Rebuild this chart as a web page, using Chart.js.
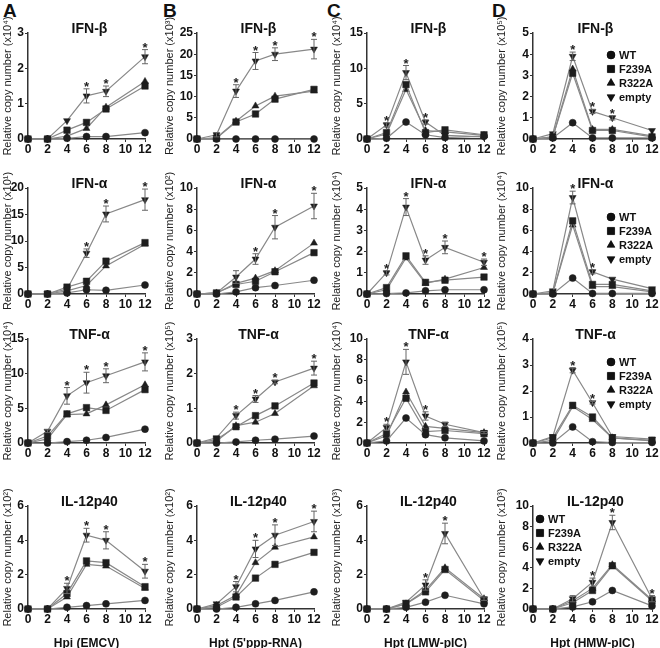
<!DOCTYPE html>
<html lang="en">
<head>
<meta charset="UTF-8">
<title>Relative copy number</title>
<script src="https://cdn.jsdelivr.net/npm/chart.js"></script>
<style>
  body { margin: 0; background: #fff; }
  #fig { position: relative; width: 660px; height: 648px; overflow: hidden;
         font-family: Arial, "Liberation Sans", sans-serif; }
  #fig canvas { position: absolute; }
  .letter { position: absolute; font-weight: bold; font-size: 19px; color: #111; }
</style>
</head>
<body>
<div id="fig">
  <div class="letter" style="left:3px;top:0">A</div>
  <div class="letter" style="left:163px;top:0">B</div>
  <div class="letter" style="left:327px;top:0">C</div>
  <div class="letter" style="left:492px;top:0">D</div>
</div>
<script>
// ---- data ----
const hours = [0, 2, 4, 6, 8, 12];
const groups = ['WT', 'F239A', 'R322A', 'empty'];
const genes = ['IFN-β', 'IFN-α', 'TNF-α', 'IL-12p40'];
const stimuli = ['Hpi (EMCV)', "Hpt (5'ppp-RNA)", 'Hpt (LMW-pIC)', 'Hpt (HMW-pIC)'];

// y axis: exponent of the x10 factor, max and step (rows = genes, cols = stimuli)
const yExp  = [[4, 3, 4, 5], [1, 2, 4, 4], [4, 5, 4, 5], [2, 2, 3, 3]];
const yMax  = [[3, 25, 15, 5], [20, 10, 5, 10], [15, 3, 10, 4], [6, 6, 6, 10]];
const yStep = [[1, 5, 5, 1], [5, 2, 1, 2], [5, 1, 2, 1], [2, 2, 2, 2]];

// values per panel: [WT, F239A, R322A, empty]
const ifnbA = [[0, 0, 0.02, 0.07, 0.07, 0.18], [0, 0, 0.25, 0.47, 0.85, 1.5], [0, 0, 0.08, 0.3, 0.9, 1.63], [0, 0, 0.52, 1.22, 1.35, 2.33]];
const ifnbB = [[0, 0, 0, 0, 0, 0], [0, 0.2, 4.0, 5.9, 9.4, 11.7], [0, 0.3, 4.2, 7.8, 10.1, 11.3], [0, 1.0, 11.3, 18.4, 20.0, 21.2]];
const ifnbC = [[0, 0.1, 2.4, 0.6, 0.2, 0.4], [0, 0.9, 7.7, 0.9, 1.3, 0.6], [0, 0.7, 7.0, 1.2, 1.0, 0.5], [0, 2.0, 9.4, 2.4, 0.5, 0.3]];
const ifnbD = [[0, 0.05, 0.77, 0.05, 0.05, 0.05], [0, 0.1, 3.1, 0.4, 0.4, 0.1], [0, 0.1, 3.3, 0.45, 0.45, 0.15], [0, 0.25, 3.9, 1.3, 1.0, 0.4]];

const ifnaA = [[0, 0, 0.2, 0.8, 0.7, 1.7], [0, 0, 1.3, 2.4, 6.2, 9.7], [0, 0, 0.6, 1.6, 5.3, 9.4], [0, 0.1, 0.9, 7.7, 15.1, 17.8]];
const ifnaB = [[0, 0, 0.2, 0.6, 0.8, 1.3], [0, 0.1, 0.9, 1.2, 2.1, 3.9], [0, 0.1, 1.0, 1.5, 2.2, 4.8], [0, 0.1, 1.6, 3.3, 6.3, 8.3]];
const ifnaC = [[0, 0.02, 0.05, 0.15, 0.2, 0.2], [0, 0.3, 1.8, 0.55, 0.65, 0.8], [0, 0.2, 1.7, 0.5, 0.7, 1.25], [0, 1.0, 4.1, 1.6, 2.2, 1.5]];
const ifnaD = [[0, 0, 1.5, 0.05, 0.05, 0.05], [0, 0.1, 6.9, 0.9, 0.9, 0.3], [0, 0.1, 6.5, 0.7, 0.7, 0.2], [0, 0.3, 9.1, 2.1, 1.4, 0.5]];

const tnfA = [[0, 0, 0.2, 0.4, 0.8, 2.0], [0, 1.0, 4.2, 5.1, 4.7, 7.7], [0, 0.6, 4.1, 4.2, 5.5, 8.4], [0, 1.7, 6.8, 8.7, 9.7, 11.7]];
const tnfB = [[0, 0, 0.03, 0.08, 0.11, 0.2], [0, 0.1, 0.47, 0.79, 1.07, 1.73], [0, 0.05, 0.5, 0.6, 0.85, 1.65], [0, 0.15, 0.79, 1.27, 1.76, 2.16]];
const tnfC = [[0, 0.2, 2.4, 0.8, 0.5, 0.2], [0, 0.9, 4.3, 1.1, 1.2, 0.9], [0, 0.7, 4.9, 1.6, 1.4, 1.0], [0, 1.5, 7.8, 2.6, 1.8, 1.0]];
const tnfD = [[0, 0, 0.62, 0.05, 0.02, 0.02], [0, 0.2, 1.45, 1.0, 0.2, 0.1], [0, 0.1, 1.4, 0.9, 0.2, 0.08], [0, 0.25, 2.8, 1.55, 0.25, 0.15]];

const il12A = [[0, 0, 0.1, 0.2, 0.3, 0.5], [0, 0, 0.9, 2.8, 2.7, 1.3], [0, 0, 0.7, 2.6, 2.5, 1.2], [0, 0, 1.2, 4.3, 4.0, 2.2]];
const il12B = [[0, 0, 0.1, 0.3, 0.5, 1.0], [0, 0.1, 0.7, 1.8, 2.6, 3.3], [0, 0.2, 0.8, 2.7, 3.6, 4.2], [0, 0.3, 1.3, 3.5, 4.3, 5.1]];
const il12C = [[0, 0, 0.1, 0.4, 0.8, 0.3], [0, 0, 0.3, 1.0, 2.3, 0.5], [0, 0, 0.3, 1.1, 2.4, 0.6], [0, 0, 0.4, 1.4, 4.4, 0.6]];
const il12D = [[0, 0, 0.2, 0.7, 1.8, 0.3], [0, 0, 0.6, 1.8, 4.2, 0.8], [0, 0, 0.8, 2.0, 4.3, 0.9], [0, 0, 1.0, 2.6, 8.4, 1.0]];

// error (SD) of the "empty" group, same panel order
const errIfnb = [[0, 0, 0, 0.2, 0.15, 0.2], [0, 0.5, 1.5, 2, 1.5, 2.3], [0, 0.3, 1, 0.3, 0, 0], [0, 0, 0.2, 0.1, 0.1, 0]];
const errIfna = [[0, 0, 0, 0.8, 1.5, 2], [0, 0, 0.6, 0.5, 1.1, 1.2], [0, 0.1, 0.4, 0.2, 0.3, 0.15], [0, 0, 0.6, 0.2, 0, 0]];
const errTnf  = [[0, 0.2, 1.2, 1.5, 1, 1.3], [0, 0, 0.1, 0.1, 0.05, 0.2], [0, 0.3, 1.2, 0.4, 0.2, 0.1], [0, 0, 0.1, 0.05, 0, 0]];
const errIl12 = [[0, 0, 0.3, 0.4, 0.5, 0.4], [0, 0, 0.3, 0.5, 0.6, 0.6], [0, 0, 0, 0.3, 0.6, 0.1], [0, 0, 0.3, 0.4, 0.7, 0.3]];

// hours marked with * (significance)
const starsIfnb = [[6, 8, 12], [4, 6, 8, 12], [2, 4, 6], [4, 6, 8]];
const starsIfna = [[6, 8, 12], [6, 8, 12], [2, 4, 6, 8, 12], [4, 6]];
const starsTnf  = [[4, 6, 8, 12], [4, 6, 8, 12], [2, 4, 6], [4, 6]];
const starsIl12 = [[4, 6, 8, 12], [4, 6, 8, 12], [6, 8], [6, 8, 12]];

const panels = [
  [ifnbA, ifnbB, ifnbC, ifnbD],
  [ifnaA, ifnaB, ifnaC, ifnaD],
  [tnfA, tnfB, tnfC, tnfD],
  [il12A, il12B, il12C, il12D]
];
const errors = [errIfnb, errIfna, errTnf, errIl12];
const stars = [starsIfnb, starsIfna, starsTnf, starsIl12];

// ---- layout ----
const plotTop = [33, 188, 339, 506];
const plotBottom = [139, 294, 443, 609];
const axisX = [28, 197, 367, 533];
const plotRight = [145, 314, 484, 652];
const yAxisW = [27, 34, 37, 38];
const legendOff = [[78, 22], [78, 29], [78, 23], [7, 13]];

const FONT = 'Arial, "Liberation Sans", sans-serif';
const supDigits = { 1: '¹', 2: '²', 3: '³', 4: '⁴', 5: '⁵' };
const pointStyles = ['circle', 'rect', 'triangle', 'triangle'];
const pointRot = [0, 0, 0, 180];
const pointRad = [3.5, 4.6, 4, 4];

function decor(r, c) {
  return {
    id: 'decor',
    afterDatasetsDraw(chart) {
      const ctx = chart.ctx, xs = chart.scales.x, ys = chart.scales.y;
      const vals = panels[r][c][3], err = errors[r][c];
      ctx.save();
      ctx.strokeStyle = '#666';
      ctx.lineWidth = 1;
      hours.forEach((h, i) => {
        if (!err[i]) return;
        const px = xs.getPixelForValue(h);
        const t = ys.getPixelForValue(vals[i] + err[i]);
        const b = ys.getPixelForValue(Math.max(0, vals[i] - err[i]));
        ctx.beginPath();
        ctx.moveTo(px, t); ctx.lineTo(px, b);
        ctx.moveTo(px - 3, t); ctx.lineTo(px + 3, t);
        ctx.moveTo(px - 3, b); ctx.lineTo(px + 3, b);
        ctx.stroke();
      });
      ctx.fillStyle = '#222';
      ctx.font = 'bold 13px ' + FONT;
      ctx.textAlign = 'center';
      ctx.textBaseline = 'alphabetic';
      stars[r][c].forEach(h => {
        const i = hours.indexOf(h);
        const px = xs.getPixelForValue(h);
        const py = ys.getPixelForValue(vals[i] + err[i]);
        ctx.fillText('*', px, py + 2);
      });
      ctx.restore();
    },
    afterDraw(chart) {
      const ctx = chart.ctx, a = chart.chartArea;
      ctx.save();
      ctx.fillStyle = '#111';
      ctx.font = 'bold 14px ' + FONT;
      ctx.textAlign = 'center';
      ctx.textBaseline = 'alphabetic';
      ctx.fillText(genes[r], (a.left + a.right) / 2 + 3, a.top);
      if (c === 3) {
        const lx = a.left + legendOff[r][0], ly = a.top + legendOff[r][1];
        ctx.font = 'bold 11px ' + FONT;
        ctx.textAlign = 'left';
        ctx.textBaseline = 'middle';
        groups.forEach((g, k) => {
          const y = ly + k * 14;
          ctx.fillStyle = '#111';
          ctx.strokeStyle = '#111';
          Chart.helpers.drawPoint(ctx, { pointStyle: pointStyles[k], radius: pointRad[k] + 0.5, rotation: pointRot[k], borderWidth: 1 }, lx, y);
          ctx.fill();
          ctx.fillText(g, lx + 8, y + 0.5);
        });
      }
      ctx.restore();
    }
  };
}

const fig = document.getElementById('fig');
for (let r = 0; r < 4; r++) {
  for (let c = 0; c < 4; c++) {
    const left = axisX[c] - yAxisW[c];
    const top = plotTop[r] - 22;
    const xh = r === 3 ? 42 : 22;
    const w = plotRight[c] + 10 - left;
    const hgt = plotBottom[r] + xh - top;
    const cv = document.createElement('canvas');
    cv.width = w; cv.height = hgt;
    cv.style.left = left + 'px'; cv.style.top = top + 'px';
    fig.appendChild(cv);

    const datasets = groups.map((g, k) => ({
      label: g,
      data: hours.map((h, i) => ({ x: h, y: panels[r][c][k][i] })),
      borderColor: '#888',
      borderWidth: 1.2,
      pointStyle: pointStyles[k],
      pointRotation: pointRot[k],
      pointRadius: pointRad[k],
      pointBackgroundColor: '#1e1e1e',
      pointBorderColor: '#1e1e1e',
      pointBorderWidth: 0.5,
      tension: 0,
      clip: false
    }));

    const tickFont = { family: FONT, size: 12, weight: 'bold' };
    new Chart(cv, {
      type: 'line',
      data: { datasets },
      options: {
        responsive: false,
        animation: false,
        layout: { padding: { top: 22, right: 10, left: 0, bottom: 0 } },
        plugins: { legend: { display: false }, tooltip: { enabled: false } },
        scales: {
          x: {
            type: 'linear', min: 0, max: 12,
            ticks: { stepSize: 2, font: tickFont, color: '#111', padding: 0, autoSkip: false, maxRotation: 0 },
            grid: { drawOnChartArea: false, tickLength: 3, color: '#333' },
            border: { color: '#333', width: 1.5 },
            title: r === 3
              ? { display: true, text: stimuli[c], font: { family: FONT, size: 12, weight: 'bold' }, color: '#111', padding: { top: 3, bottom: 0 } }
              : { display: false },
            afterFit: s => { s.height = xh; }
          },
          y: {
            min: 0, max: yMax[r][c],
            ticks: { stepSize: yStep[r][c], font: tickFont, color: '#111', padding: 1 },
            grid: { drawOnChartArea: false, tickLength: 3, color: '#333' },
            border: { color: '#333', width: 1.5 },
            title: { display: true, text: 'Relative copy number (x10' + supDigits[yExp[r][c]] + ')',
                     font: { family: FONT, size: 11 }, color: '#222', padding: 0 },
            afterFit: s => { s.width = yAxisW[c]; }
          }
        }
      },
      plugins: [decor(r, c)]
    });
  }
}
</script>
</body>
</html>
